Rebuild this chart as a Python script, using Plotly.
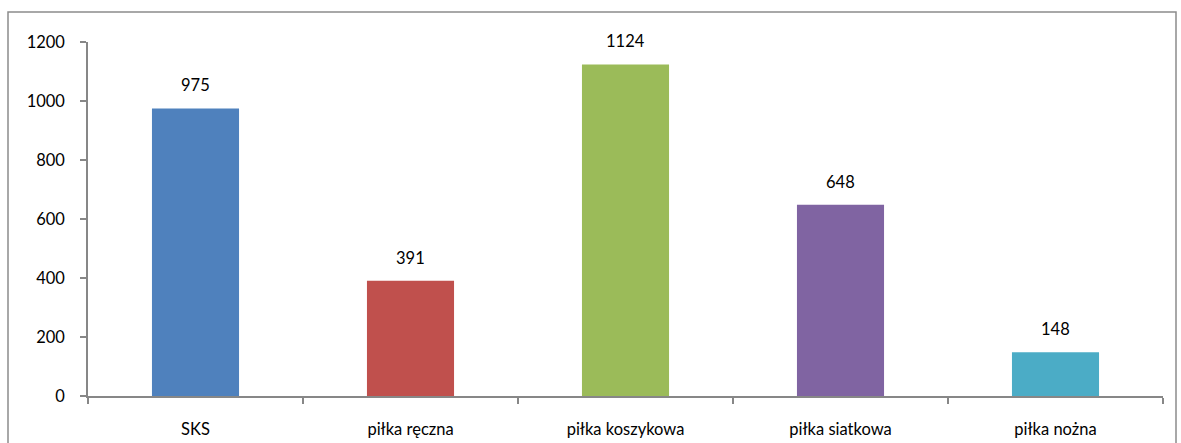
import plotly.graph_objects as go

# Participants per activity
categories = ["SKS", "piłka ręczna", "piłka koszykowa", "piłka siatkowa", "piłka nożna"]
values = [975, 391, 1124, 648, 148]
bar_colors = ["#4F81BD", "#C0504D", "#9BBB59", "#8064A2", "#4BACC6"]
y_ticks = [0, 200, 400, 600, 800, 1000, 1200]

FONT = "Lato, Calibri, Carlito, sans-serif"
AXIS_GRAY = "#878787"
FS = 16.5

fig = go.Figure(
    go.Bar(
        x=categories,
        y=values,
        marker=dict(color=bar_colors, line=dict(width=0)),
        width=0.405,
        hoverinfo="x+y",
    )
)

# value labels floating above each bar
for cat, val in zip(categories, values):
    fig.add_annotation(
        x=cat, y=val, text=str(val), showarrow=False,
        yanchor="bottom", yshift=11,
        font=dict(family=FONT, size=FS, color="#000000"),
    )

# outer chart frame
L, R, T, B = 88, 18, 42, 47
W, H = 1181, 443
pw, ph = W - L - R, H - T - B
fig.add_shape(
    type="rect", xref="paper", yref="paper",
    x0=(8 - L) / pw, x1=(1176 - L) / pw,
    y0=-(460 - (H - B)) / ph, y1=((H - B) - 12) / ph,
    line=dict(color="#8C8C8C", width=1.5), fillcolor="rgba(0,0,0,0)",
    layer="below",
)

fig.update_layout(
    width=W, height=H,
    margin=dict(l=L, r=R, t=T, b=B, autoexpand=False),
    paper_bgcolor="white", plot_bgcolor="white",
    showlegend=False,
    font=dict(family=FONT, size=FS, color="#000000"),
    xaxis=dict(
        type="category", automargin=False,
        showline=True, linecolor=AXIS_GRAY, linewidth=1.5,
        ticks="outside", tickson="boundaries", ticklen=6,
        tickcolor=AXIS_GRAY, tickwidth=1.5,
        showgrid=False, zeroline=False,
        ticklabelstandoff=17,
        tickfont=dict(family=FONT, size=FS, color="#000000"),
    ),
    yaxis=dict(
        range=[0, 1200], tickvals=y_ticks, automargin=False,
        showline=True, linecolor=AXIS_GRAY, linewidth=1.5,
        ticks="outside", ticklen=6, tickcolor=AXIS_GRAY, tickwidth=1.5,
        showgrid=False, zeroline=False,
        ticklabelstandoff=12,
        tickfont=dict(family=FONT, size=FS, color="#000000"),
    ),
)

fig.write_html("out.html")
